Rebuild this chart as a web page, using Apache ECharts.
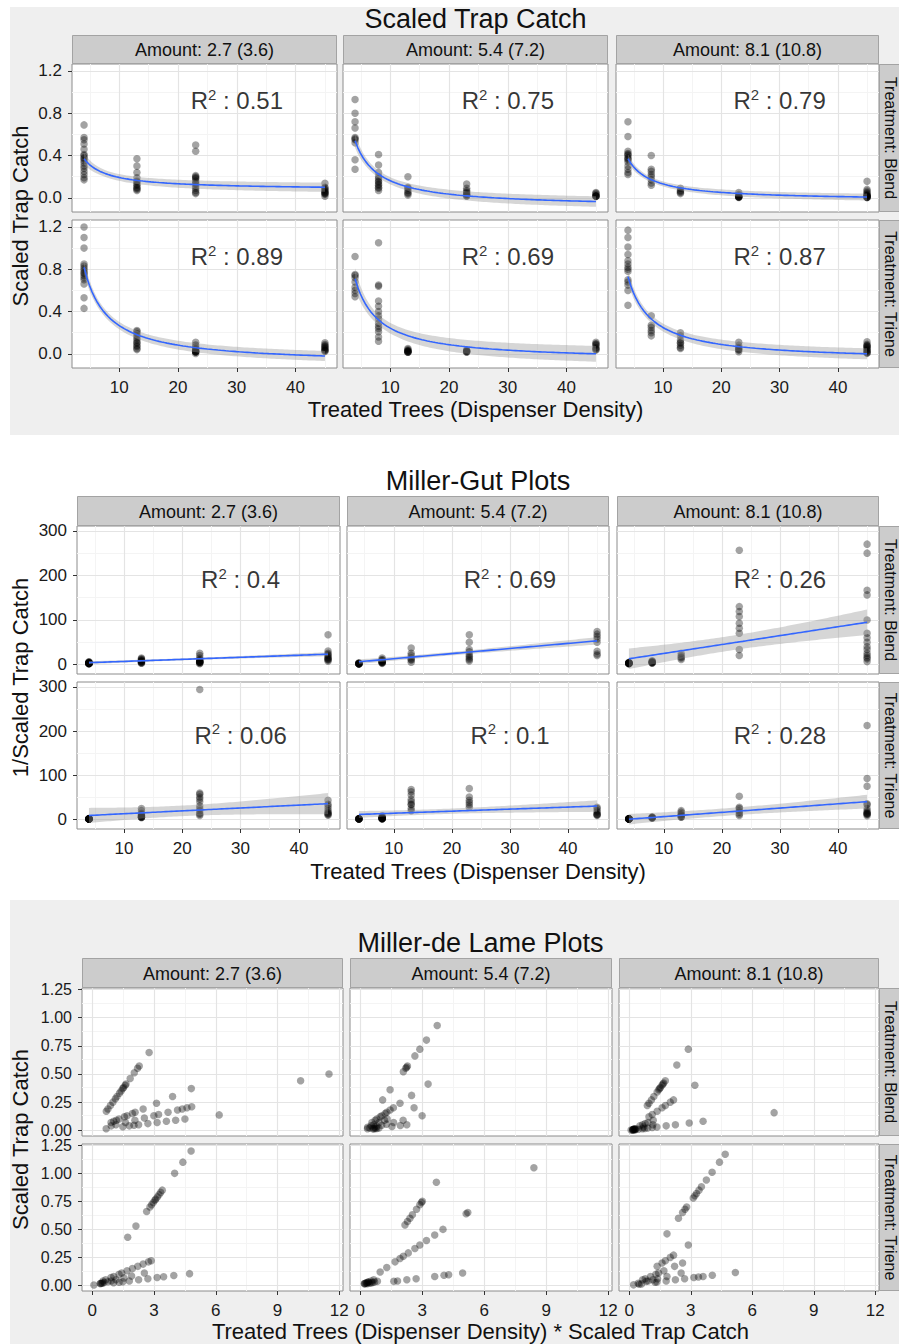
<!DOCTYPE html>
<html>
<head>
<meta charset="utf-8">
<title>Scaled Trap Catch / Miller-Gut / Miller-de Lame</title>
<script src="https://cdn.jsdelivr.net/npm/echarts@6.0.0/dist/echarts.min.js"></script>
<style>
html,body{margin:0;padding:0;background:#ffffff;}
#chart{width:899px;height:1344px;}
</style>
</head>
<body>
<div id="chart"></div>
<script>
// ---------- labels ----------
const amountLabels = ['Amount: 2.7 (3.6)', 'Amount: 5.4 (7.2)', 'Amount: 8.1 (10.8)'];
const treatmentLabels = ['Treatment: Blend', 'Treatment: Triene'];
const sectionTitles = ['Scaled Trap Catch', 'Miller-Gut Plots', 'Miller-de Lame Plots'];
const xAxisTitles = ['Treated Trees (Dispenser Density)', 'Treated Trees (Dispenser Density)', 'Treated Trees (Dispenser Density) * Scaled Trap Catch'];
const yAxisTitles = ['Scaled Trap Catch', '1/Scaled Trap Catch', 'Scaled Trap Catch'];

// ---------- data: scaled trap catch by treated trees (dispenser density) ----------
const catchBlend27 = [
  [4,  [0.69, 0.57, 0.55, 0.51, 0.46, 0.41, 0.40, 0.38, 0.37, 0.35, 0.33, 0.30, 0.28, 0.25, 0.22, 0.19, 0.17]],
  [13, [0.37, 0.30, 0.24, 0.19, 0.16, 0.15, 0.13, 0.12, 0.10, 0.09, 0.08, 0.07]],
  [23, [0.50, 0.44, 0.21, 0.20, 0.19, 0.18, 0.16, 0.14, 0.13, 0.11, 0.09, 0.07, 0.05, 0.04]],
  [45, [0.137, 0.10, 0.09, 0.08, 0.07, 0.06, 0.05, 0.045, 0.04, 0.033, 0.015]]
];
const catchBlend54 = [
  [4,  [0.93, 0.80, 0.72, 0.66, 0.57, 0.56, 0.55, 0.52, 0.36, 0.27]],
  [8,  [0.41, 0.31, 0.24, 0.20, 0.18, 0.16, 0.15, 0.13, 0.12, 0.10, 0.09, 0.07]],
  [13, [0.20, 0.10, 0.09, 0.07, 0.05, 0.04, 0.027]],
  [23, [0.13, 0.09, 0.07, 0.055, 0.045, 0.035, 0.03, 0.02, 0.015]],
  [45, [0.05, 0.043, 0.034, 0.02, 0.0175, 0.016, 0.0147, 0.0135]]
];
const catchBlend81 = [
  [4,  [0.72, 0.58, 0.44, 0.42, 0.41, 0.40, 0.38, 0.37, 0.36, 0.34, 0.30, 0.27, 0.24, 0.22]],
  [8,  [0.40, 0.27, 0.25, 0.22, 0.20, 0.17, 0.14, 0.12]],
  [13, [0.09, 0.07, 0.06, 0.05, 0.04]],
  [23, [0.05, 0.03, 0.0143, 0.0123, 0.0108, 0.0093, 0.0084, 0.0077, 0.0039]],
  [45, [0.157, 0.08, 0.065, 0.05, 0.04, 0.03, 0.025, 0.02, 0.0167, 0.0143, 0.01, 0.0064, 0.006, 0.004, 0.0037]]
];
const catchTriene27 = [
  [4,  [1.20, 1.10, 1.00, 0.85, 0.83, 0.81, 0.79, 0.77, 0.76, 0.74, 0.72, 0.70, 0.66, 0.53, 0.43]],
  [13, [0.22, 0.21, 0.19, 0.17, 0.15, 0.13, 0.11, 0.10, 0.08, 0.07, 0.05, 0.04]],
  [23, [0.11, 0.083, 0.067, 0.05, 0.04, 0.033, 0.025, 0.0217, 0.0196, 0.0175, 0.0167, 0.0034]],
  [45, [0.105, 0.088, 0.077, 0.07, 0.06, 0.05, 0.04, 0.033, 0.029, 0.023]]
];
const catchTriene54 = [
  [4,  [0.92, 0.75, 0.74, 0.72, 0.68, 0.63, 0.60, 0.57, 0.54]],
  [8,  [1.05, 0.65, 0.64, 0.50, 0.45, 0.40, 0.36, 0.33, 0.29, 0.26, 0.24, 0.21, 0.16, 0.12]],
  [13, [0.05, 0.04, 0.03, 0.029, 0.025, 0.022, 0.018, 0.016, 0.0147]],
  [23, [0.036, 0.03, 0.026, 0.023, 0.0196, 0.0143]],
  [45, [0.11, 0.095, 0.09, 0.08, 0.06, 0.05, 0.04, 0.036]]
];
const catchTriene81 = [
  [4,  [1.17, 1.10, 1.01, 0.94, 0.88, 0.85, 0.82, 0.80, 0.78, 0.70, 0.68, 0.65, 0.60, 0.46]],
  [8,  [0.36, 0.27, 0.25, 0.22, 0.20, 0.17]],
  [13, [0.20, 0.17, 0.13, 0.11, 0.10, 0.08, 0.06, 0.05]],
  [23, [0.11, 0.08, 0.06, 0.05, 0.04, 0.036, 0.019]],
  [45, [0.115, 0.09, 0.08, 0.075, 0.07, 0.06, 0.05, 0.04, 0.03, 0.028, 0.0133, 0.0108, 0.0047]]
];

// ---------- fitted models (panel order: Blend 2.7, 5.4, 8.1, Triene 2.7, 5.4, 8.1) ----------
// Scaled trap catch: y = a + b / trees
const scaledFitA = [0.074, -0.091, -0.028, -0.102, -0.069, -0.071];
const scaledFitB = [1.185, 2.524, 1.594, 3.687, 3.117, 3.205];
const scaledR2 = ['0.51', '0.75', '0.79', '0.89', '0.69', '0.87'];
// Miller-Gut: 1/y = a + b * trees
const gutFitA = [2.15, 1.4, 4.7, 6.5, 9.55, -3.2];
const gutFitB = [0.463, 1.146, 2.0, 0.651, 0.463, 0.968];
const gutR2 = ['0.4', '0.69', '0.26', '0.06', '0.1', '0.28'];

// ---------- tick labels ----------
const treesTicks = [10, 20, 30, 40];
const treesMinor = [5, 15, 25, 35, 45];
const scaledTicks = [0, 0.4, 0.8, 1.2];
const scaledMinor = [0.2, 0.6, 1.0];
const gutTicks = [0, 100, 200, 300];
const gutMinor = [50, 150, 250];
const lameXTicks = [0, 3, 6, 9, 12];
const lameXMinor = [1.5, 4.5, 7.5, 10.5];
const lameYTicks = [0, 0.25, 0.5, 0.75, 1.0, 1.25];
const lameYMinor = [0.125, 0.375, 0.625, 0.875, 1.125];

// ---------- layout & style ----------
const FONT = "'Liberation Sans', Arial, Helvetica, sans-serif";
const panels = [catchBlend27, catchBlend54, catchBlend81, catchTriene27, catchTriene54, catchTriene81];

const layouts = [
  {titleY: 19, stripTop: 35, rows: [[64, 212], [220, 368]], cols: [[72, 337], [343, 608], [616, 879]], bg: [10, 7, 889, 428], xTitleY: 409, yTitleX: 20},
  {titleY: 480.5, stripTop: 496, rows: [[526, 674], [682, 829]], cols: [[77, 340], [347, 609], [617, 879]], bg: null, xTitleY: 871, yTitleX: 20},
  {titleY: 942.5, stripTop: 958, rows: [[988, 1136], [1144, 1291]], cols: [[82, 343], [350, 612], [619, 879]], bg: [10, 900, 889, 444], xTitleY: 1331.5, yTitleX: 20}
];

const scales = [
  {x: [1.95, 47.05], y: [-0.134, 1.266], xt: treesTicks, xm: treesMinor, yt: scaledTicks, ym: scaledMinor, yDec: 1, yFont: 17},
  {x: [1.95, 47.05], y: [-21.5, 311], xt: treesTicks, xm: treesMinor, yt: gutTicks, ym: gutMinor, yDec: 0, yFont: 17},
  {x: [-0.5, 12.18], y: [-0.05, 1.262], xt: lameXTicks, xm: lameXMinor, yt: lameYTicks, ym: lameYMinor, yDec: 2, yFont: 16}
];

const toPoint = [
  (t, c) => [t, c],
  (t, c) => [t, 1 / c],
  (t, c) => [t * c, c]
];
const basis = [t => 1 / t, t => t];
const fits = [
  {a: scaledFitA, b: scaledFitB, r2: scaledR2, labelAt: [30, 0.92]},
  {a: gutFitA, b: gutFitB, r2: gutR2, labelAt: [30, 190]}
];

function panelPoints(s, p) {
  const out = [];
  panels[p].forEach(([t, vals]) => vals.forEach(c => out.push(toPoint[s](t, c))));
  return out;
}

function fitCurves(s, p, pts) {
  const a = fits[s].a[p], b = fits[s].b[p], f = basis[s];
  const n = pts.length;
  const us = pts.map(q => f(q[0]));
  const ub = us.reduce((m, u) => m + u, 0) / n;
  const sxx = us.reduce((m, u) => m + (u - ub) * (u - ub), 0);
  const rss = pts.reduce((m, q, i) => m + Math.pow(q[1] - (a + b * us[i]), 2), 0);
  const sd = Math.sqrt(rss / (n - 2));
  const tq = 1.98;
  const xs = pts.map(q => q[0]);
  const lo = Math.min.apply(null, xs), hi = Math.max.apply(null, xs);
  const line = [], upper = [], lower = [];
  const N = 90;
  for (let i = 0; i <= N; i++) {
    const x = lo + (hi - lo) * i / N;
    const u = f(x);
    const yh = a + b * u;
    const half = tq * sd * Math.sqrt(1 / n + (u - ub) * (u - ub) / sxx);
    line.push([x, yh]); upper.push([x, yh + half]); lower.push([x, yh - half]);
  }
  return {line, upper, lower};
}

const MAJ = {color: '#e4e4e4', width: 1.2, type: 'solid'};
const MIN = {color: '#f4f4f4', width: 1, type: 'solid'};
function gridLineData(S) {
  return [].concat(
    S.xm.map(v => ({xAxis: v, lineStyle: MIN})),
    S.ym.map(v => ({yAxis: v, lineStyle: MIN})),
    S.xt.map(v => ({xAxis: v, lineStyle: MAJ})),
    S.yt.map(v => ({yAxis: v, lineStyle: MAJ}))
  );
}

function txt(text, x, y, size, extra) {
  return Object.assign({
    type: 'text', x: x, y: y, silent: true,
    style: {text: text, textAlign: 'center', textVerticalAlign: 'middle', align: 'center', verticalAlign: 'middle',
            fontSize: size, fontFamily: FONT, fill: '#111'}
  }, extra || {});
}

const grids = [], xAxes = [], yAxes = [], series = [], graphics = [];

layouts.forEach((L, s) => {
  const S = scales[s];
  if (L.bg) {
    graphics.push({type: 'rect', z: -100, silent: true, shape: {x: L.bg[0], y: L.bg[1], width: L.bg[2], height: L.bg[3]}, style: {fill: '#efefef'}});
  }
  const cx = (L.cols[0][0] + L.cols[2][1]) / 2;
  const cy = (L.rows[0][0] + L.rows[1][1]) / 2;
  graphics.push(txt(sectionTitles[s], cx, L.titleY, 27));
  graphics.push(txt(xAxisTitles[s], cx, L.xTitleY, 22));
  graphics.push(txt(yAxisTitles[s], L.yTitleX, cy, 22, {rotation: Math.PI / 2}));
  L.cols.forEach((c, j) => {
    graphics.push({type: 'rect', silent: true, shape: {x: c[0] + 0.5, y: L.stripTop + 0.5, width: c[1] - c[0] - 1, height: L.rows[0][0] - L.stripTop - 1},
      style: {fill: '#cccccc', stroke: '#a3a3a3', lineWidth: 1}});
    graphics.push(txt(amountLabels[j], (c[0] + c[1]) / 2, (L.stripTop + L.rows[0][0]) / 2 + 0.5, 18));
  });
  L.rows.forEach((r, i) => {
    graphics.push({type: 'rect', silent: true, shape: {x: L.cols[2][1] + 0.5, y: r[0] + 0.5, width: 40, height: r[1] - r[0] - 1},
      style: {fill: '#cccccc', stroke: '#a3a3a3', lineWidth: 1}});
    graphics.push(txt(treatmentLabels[i], L.cols[2][1] + 11, (r[0] + r[1]) / 2, 16, {rotation: -Math.PI / 2}));
  });

  for (let p = 0; p < 6; p++) {
    const row = Math.floor(p / 3), col = p % 3;
    const g = grids.length;
    grids.push({left: L.cols[col][0], top: L.rows[row][0], width: L.cols[col][1] - L.cols[col][0], height: L.rows[row][1] - L.rows[row][0],
      show: true, backgroundColor: '#ffffff', borderColor: '#8c8c8c', borderWidth: 1, containLabel: false, outerBoundsMode: 'none'});
    xAxes.push({gridIndex: g, type: 'value', min: S.x[0], max: S.x[1], position: 'bottom',
      axisLine: {show: false, onZero: false}, splitLine: {show: false}, minorSplitLine: {show: false},
      axisTick: {show: row === 1, length: 4, lineStyle: {color: '#333', width: 1}, customValues: S.xt},
      axisLabel: {show: row === 1, customValues: S.xt, fontSize: 17, fontFamily: FONT, color: '#1a1a1a', margin: 11,
        formatter: v => String(v)}});
    yAxes.push({gridIndex: g, type: 'value', min: S.y[0], max: S.y[1], position: 'left',
      axisLine: {show: false, onZero: false}, splitLine: {show: false}, minorSplitLine: {show: false},
      axisTick: {show: col === 0, length: 4, lineStyle: {color: '#333', width: 1}, customValues: S.yt},
      axisLabel: {show: col === 0, customValues: S.yt, fontSize: S.yFont, fontFamily: FONT, color: '#1a1a1a', margin: 10,
        formatter: v => Number(v).toFixed(S.yDec)}});

    // background grid lines (drawn through the axes' scales, beneath the marks)
    series.push({type: 'line', xAxisIndex: g, yAxisIndex: g, data: [], z: 1, silent: true,
      markLine: {z: 1, silent: true, symbol: ['none', 'none'], label: {show: false}, emphasis: {disabled: true}, animation: false,
        data: gridLineData(S)}});

    const pts = panelPoints(s, p);
    series.push({type: 'scatter', xAxisIndex: g, yAxisIndex: g, z: 2, silent: true, symbolSize: 7.5,
      itemStyle: {color: 'rgba(0,0,0,0.45)', borderWidth: 0}, data: pts});

    if (s < 2) {
      const cv = fitCurves(s, p, pts);
      series.push({type: 'custom', xAxisIndex: g, yAxisIndex: g, z: 3, silent: true, clip: true, data: [cv.line[0]],
        renderItem: function (params, api) {
          const poly = cv.upper.map(q => api.coord(q)).concat(cv.lower.slice().reverse().map(q => api.coord(q)));
          return {type: 'polygon', shape: {points: poly}, style: {fill: 'rgba(153,153,153,0.4)'}};
        }});
      series.push({type: 'line', xAxisIndex: g, yAxisIndex: g, z: 4, silent: true, data: cv.line, showSymbol: false, symbol: 'none',
        lineStyle: {color: '#3366FF', width: 1.6}, clip: true});
      series.push({type: 'scatter', xAxisIndex: g, yAxisIndex: g, z: 5, silent: true, symbolSize: 1,
        itemStyle: {color: 'rgba(0,0,0,0)'}, data: [fits[s].labelAt],
        label: {show: true, position: 'inside', formatter: '{r|R}{s|2}{r| : ' + fits[s].r2[p] + '}',
          rich: {r: {fontSize: 24, fontFamily: FONT, color: '#000', lineHeight: 28, verticalAlign: 'middle'},
                 s: {fontSize: 15, fontFamily: FONT, color: '#000', lineHeight: 16, verticalAlign: 'top'}}}});
    }
  }
});

const chart = echarts.init(document.getElementById('chart'), null, {renderer: 'svg', width: 899, height: 1344});
chart.setOption({
  animation: false,
  backgroundColor: '#ffffff',
  textStyle: {fontFamily: FONT},
  grid: grids,
  xAxis: xAxes,
  yAxis: yAxes,
  series: series,
  graphic: {elements: graphics}
});
</script>
</body>
</html>
